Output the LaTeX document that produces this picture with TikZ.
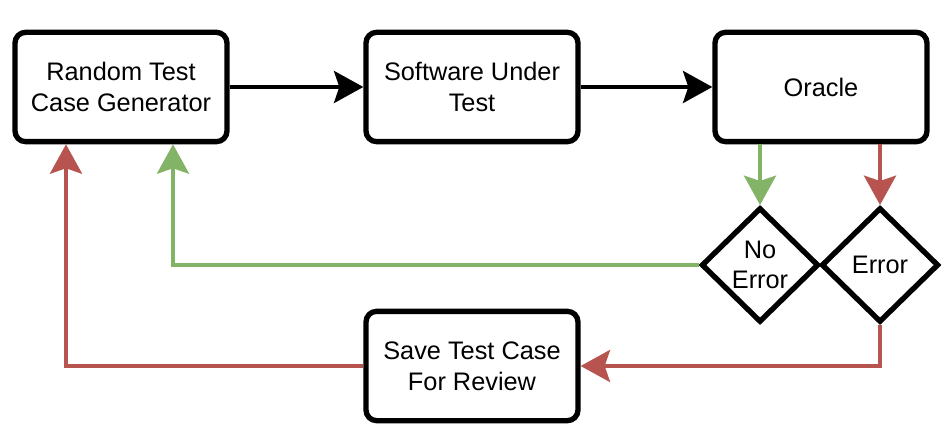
\documentclass[tikz,border=0pt]{standalone}
\usepackage{fontspec}
\setmainfont{Liberation Sans}
\usetikzlibrary{shapes.geometric,arrows.meta}

\definecolor{okgreen}{RGB}{130,179,102}
\definecolor{errred}{RGB}{184,84,80}

\tikzset{every picture/.style={line width=0.75pt}}
\tikzset{
  stepbox/.style={draw, line width=4pt, rounded corners=8pt, fill=white,
    minimum width=159pt, minimum height=82pt, align=center, font=\fontsize{19}{23}\selectfont},
  decision/.style={draw, diamond, line width=4pt, fill=white, inner sep=0pt,
    minimum width=88pt, minimum height=86pt, align=center, font=\fontsize{19}{23}\selectfont},
  flow/.style={line width=3pt, -{Stealth[length=22pt,width=24pt,inset=4pt]}},
}

\begin{document}
\begin{tikzpicture}[x=0.75pt,y=0.75pt,yscale=-1,xscale=1]
\useasboundingbox (0,0) rectangle (948,441);

% Boxes
\node[stepbox] (gen) at (121,87) {Random Test\\Case Generator};
\node[stepbox] (sut) at (472,87) {Software Under\\Test};
\node[stepbox] (oracle) at (821,87) {Oracle};
\node[stepbox] (save) at (472,366) {Save Test Case\\For Review};

% Decisions
\node[decision] (noerr) at (760,265) {No\\Error};
\node[decision] (err) at (880,265) {Error};

% Main flow
\draw[flow] (gen) -- (sut);
\draw[flow] (sut) -- (oracle);

% Oracle outcomes
\draw[flow, okgreen] (oracle.south -| noerr.north) -- (noerr.north);
\draw[flow, errred] (oracle.south -| err.north) -- (err.north);

% Back to generator
\draw[flow, okgreen] (noerr.west) -| ([xshift=39pt]gen.south);
\draw[flow, errred] (err.south) |- (save.east);
\draw[flow, errred] (save.west) -| ([xshift=-41.25pt]gen.south);

\end{tikzpicture}
\end{document}
